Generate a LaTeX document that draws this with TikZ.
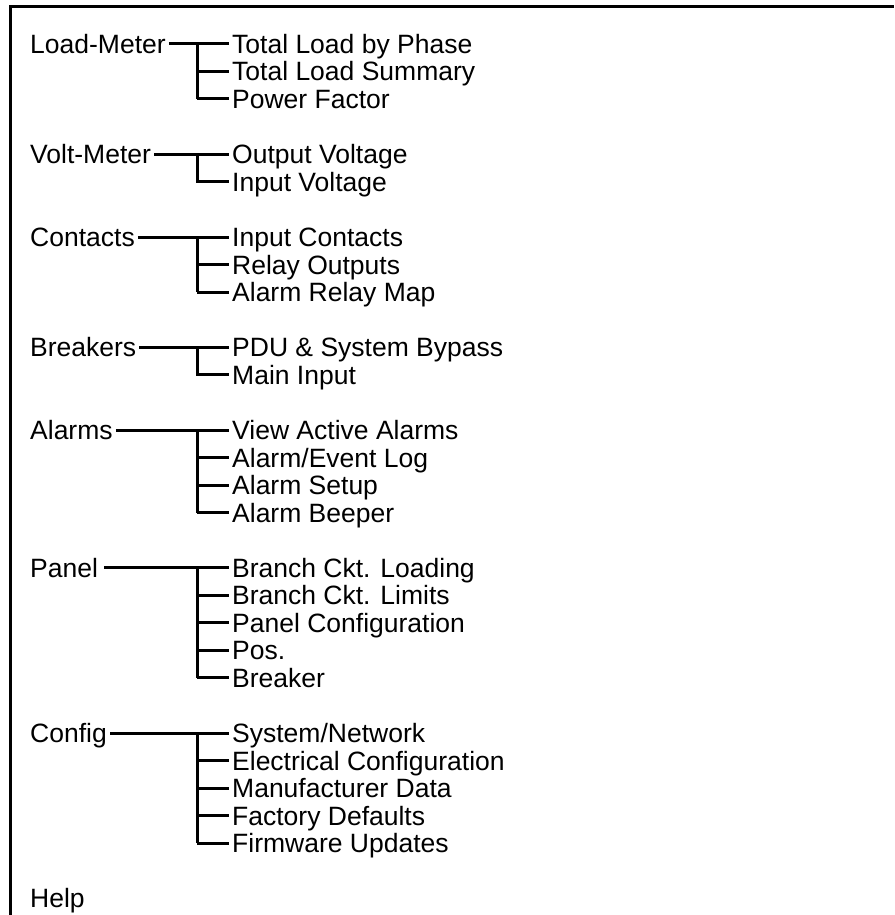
\documentclass[tikz,border=0pt]{standalone}
\usepackage{fontspec}
\setmainfont{Liberation Sans}
\usetikzlibrary{positioning}

\tikzset{
    menu/.style={anchor=west, inner xsep=3pt, inner ysep=0pt,
        text height=19pt, text depth=0pt, font=\fontsize{26.5}{27}\selectfont},
    wire/.style={line width=3pt},
}

\begin{document}
\begin{tikzpicture}[x=1pt, y=-1pt]
    \useasboundingbox (0,0) rectangle (894,915);
    % frame
    \draw[wire] (10,915) -- (10,7) -- (894,7);
    \coordinate (bx) at (197,0);

    % Load-Meter
    \node[menu] (lm) at (27,44) {Load-Meter};
    \foreach \t [count=\i] in {Total Load by Phase, Total Load Summary, Power Factor}
        \node[menu] (lm\i) at (229,16.5+27.5*\i) {\t};
    \draw[wire] (lm.east) -- (lm1.west);
    \draw[wire] (bx |- lm1) -- (bx |- lm3);
    \foreach \i in {2,3} \draw[wire] (bx |- lm\i) -- (lm\i.west);

    % Volt-Meter
    \node[menu] (vm) at (27,154) {Volt-Meter};
    \foreach \t [count=\i] in {Output Voltage, Input Voltage}
        \node[menu] (vm\i) at (229,126.5+27.5*\i) {\t};
    \draw[wire] (vm.east) -- (vm1.west);
    \draw[wire] (bx |- vm1) -- (bx |- vm2) -- (vm2.west);

    % Contacts
    \node[menu] (ct) at (27,237) {Contacts};
    \foreach \t [count=\i] in {Input Contacts, Relay Outputs, Alarm Relay Map}
        \node[menu] (ct\i) at (229,209.5+27.5*\i) {\t};
    \draw[wire] (ct.east) -- (ct1.west);
    \draw[wire] (bx |- ct1) -- (bx |- ct3);
    \foreach \i in {2,3} \draw[wire] (bx |- ct\i) -- (ct\i.west);

    % Breakers
    \node[menu] (bk) at (27,347) {Breakers};
    \foreach \t [count=\i] in {PDU \& System Bypass, Main Input}
        \node[menu] (bk\i) at (229,319.5+27.5*\i) {\t};
    \draw[wire] (bk.east) -- (bk1.west);
    \draw[wire] (bx |- bk1) -- (bx |- bk2) -- (bk2.west);

    % Alarms
    \node[menu] (al) at (27,430) {Alarms};
    \foreach \t [count=\i] in {View Active Alarms, Alarm/Event Log, Alarm Setup, Alarm Beeper}
        \node[menu] (al\i) at (229,402.5+27.5*\i) {\t};
    \draw[wire] (al.east) -- (al1.west);
    \draw[wire] (bx |- al1) -- (bx |- al4);
    \foreach \i in {2,3,4} \draw[wire] (bx |- al\i) -- (al\i.west);

    % Panel
    \node[menu] (pn) at (27,567.5) {Panel};
    \foreach \t [count=\i] in {Branch Ckt. Loading, Branch Ckt. Limits, Panel Configuration, Pos., Breaker}
        \node[menu] (pn\i) at (229,540+27.5*\i) {\t};
    \draw[wire] ([xshift=3pt]pn.east) -- (pn1.west);
    \draw[wire] (bx |- pn1) -- (bx |- pn5);
    \foreach \i in {2,...,5} \draw[wire] (bx |- pn\i) -- (pn\i.west);

    % Config
    \node[menu] (cf) at (27,733) {Config};
    \foreach \t [count=\i] in {System/Network, Electrical Configuration, Manufacturer Data, Factory Defaults, Firmware Updates}
        \node[menu] (cf\i) at (229,705.5+27.5*\i) {\t};
    \draw[wire] (cf.east) -- (cf1.west);
    \draw[wire] (bx |- cf1) -- (bx |- cf5);
    \foreach \i in {2,...,5} \draw[wire] (bx |- cf\i) -- (cf\i.west);

    % Help
    \node[menu] (hp) at (27,898) {Help};
\end{tikzpicture}
\end{document}
